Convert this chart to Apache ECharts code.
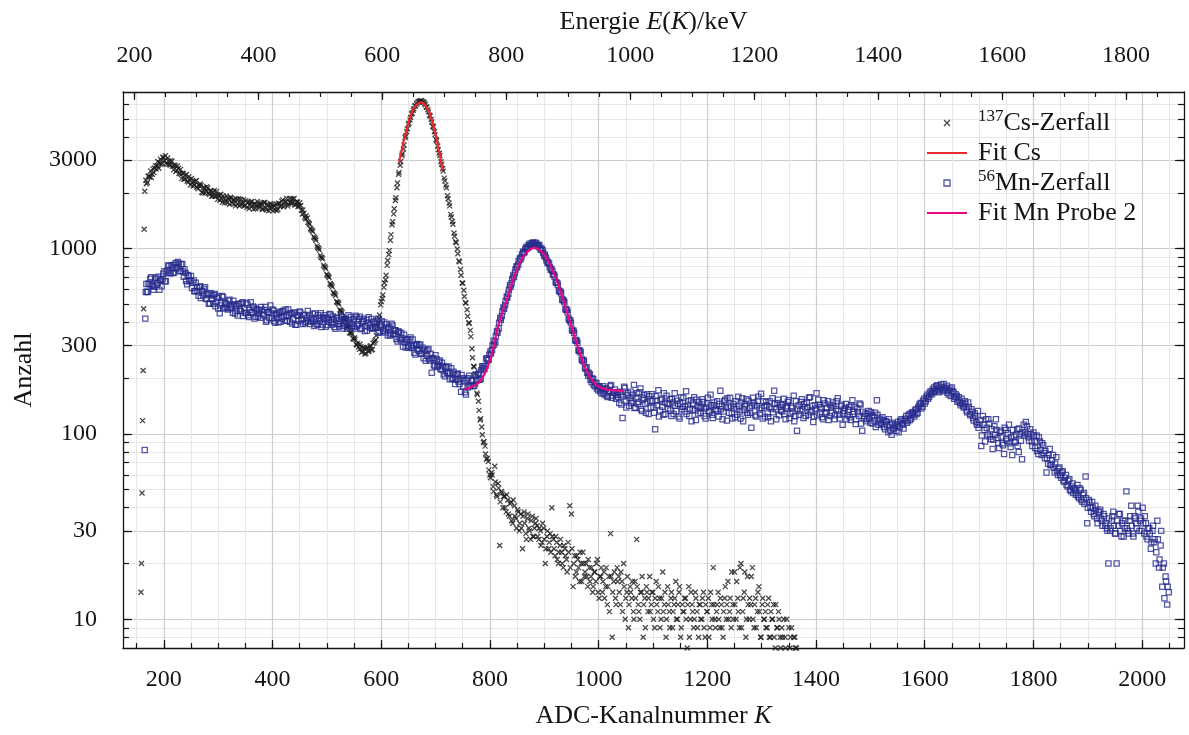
<!DOCTYPE html>
<html>
<head>
<meta charset="utf-8">
<script src="https://cdn.jsdelivr.net/npm/echarts@6/dist/echarts.min.js"></script>
<style>
  html, body { margin: 0; padding: 0; background: #ffffff; }
  #chart { width: 1189px; height: 735px; }
</style>
</head>
<body>
<div id="chart"></div>
<script>
// ---------------------------------------------------------------
// Gamma spectra: counts per ADC channel (channel grid start/step)
// ---------------------------------------------------------------

// 137Cs spectrum, threshold edge (individual channels)
const csEdgeChannels = [158, 159, 160, 161, 162, 163, 164, 165];
const csEdgeCounts   = [14, 20, 48, 118, 220, 474, 1271, 2040];

// 137Cs spectrum, channels 167, 170, 173, ...
const csStartA = 167, csStep = 3;
const csCountsA = [
  2336, 2275, 2464, 2625, 2519, 2571, 2802, 2790, 2717, 3037,
  2891, 3101, 3172, 2850, 2969, 2822, 2961, 2659, 2802, 2643,
  2714, 2534, 2385, 2544, 2381, 2515, 2289, 2353, 2392, 2179,
  2205, 2331, 2102, 2182, 2194, 1995, 2122, 2039, 2122, 1959,
  2060, 1921, 2058, 1921, 1843, 1943, 1966, 1781, 1879, 1813,
  1766, 1848, 1893, 1756, 1836, 1701, 1833, 1859, 1727, 1737,
  1838, 1710, 1670, 1787, 1713, 1794, 1634, 1749, 1727, 1654,
  1683, 1763, 1639, 1772, 1619, 1718, 1648, 1730, 1598, 1702,
  1741, 1632, 1749, 1713, 1832, 1707, 1793, 1696, 1862, 1759,
  1764, 1867, 1727, 1785, 1693, 1710, 1536, 1555, 1450, 1463,
  1375, 1285, 1255, 1160, 1130, 1035, 1005, 920, 895, 815,
  795, 728, 712, 648, 635, 580, 570, 518, 510, 468,
  460, 422, 418, 385, 382, 352, 355, 328, 330, 305,
  308, 286, 296, 278, 290, 272, 292, 280, 299, 286,
  312, 322, 378, 418, 497, 538, 618, 680, 812, 930,
  1110, 1345, 1540, 1820, 2130, 2520, 2820, 3180, 3450, 3980,
  4280, 4680, 4950, 5330, 5570, 5880, 6020, 6210, 6230, 6290,
  6180, 6090, 5820, 5610, 5250, 4980, 4570, 4270, 3880, 3580,
  3270, 2940, 2700, 2400, 2200, 1930, 1760, 1530, 1400, 1215,
  1090, 995, 858, 772, 652, 596, 510, 468, 398, 362,
  288, 232, 211, 166, 150, 119, 109, 90, 86, 73,
  71, 60, 62, 52, 67, 47, 54, 25, 49, 40,
  46, 38, 44, 36, 43, 33, 41, 35, 39, 30,
  37, 24, 38, 29, 35, 31, 27, 36, 28, 33,
  32, 27, 30, 26, 31, 20, 28, 24, 29, 40,
  27, 22, 26, 20, 25, 23, 19, 24, 21, 26,
  41, 37, 15, 22, 18, 21, 16, 20, 23, 17,
  20, 15, 19, 17, 14, 18, 16, 21, 13, 17,
  14, 18, 15, 12, 17, 29, 8, 16, 13, 19,
  17, 12, 16, 20, 10, 14, 9, 15, 13, 11,
  16, 27, 12, 10, 14, 8, 13, 15, 11, 17,
  12, 14, 9, 16, 11, 13, 10, 18, 12, 8,
  15, 11, 13, 9, 12, 16, 10, 14, 8, 12,
  11, 13, 7, 15, 10, 12, 9, 14, 11, 8,
  12, 10, 14, 8, 11, 13, 9, 12, 19, 10,
  11, 14, 9, 12, 8, 13, 10, 16, 11, 9,
  12, 18, 10, 13, 9, 20, 11, 14, 8, 17,
  10, 12, 19, 9, 13, 11, 15, 8, 12, 10,
  11, 9, 13, 8, 10, 12, 7, 9, 11, 8,
  9, 6, 8, 10, 5, 7, 9, 6, 8, 7
];

// 137Cs spectrum, channels 168, 171, 174, ...
const csStartB = 168;
const csCountsB = [
  2241, 2462, 2435, 2419, 2694, 2723, 2685, 2951, 2909, 2852,
  3110, 2979, 2893, 3080, 2842, 2985, 2782, 2815, 2602, 2793,
  2548, 2678, 2550, 2362, 2493, 2313, 2444, 2204, 2267, 2307,
  2307, 2144, 2202, 2236, 2014, 2137, 1992, 2158, 1994, 2035,
  1915, 2015, 1916, 2032, 1934, 1824, 1866, 1926, 1765, 1922,
  1875, 1737, 1873, 1826, 1744, 1860, 1742, 1697, 1848, 1771,
  1698, 1815, 1775, 1648, 1782, 1691, 1737, 1646, 1796, 1739,
  1734, 1627, 1775, 1654, 1737, 1600, 1749, 1663, 1716, 1618,
  1607, 1756, 1686, 1804, 1680, 1783, 1867, 1733, 1774, 1851,
  1854, 1718, 1788, 1688, 1768, 1612, 1617, 1474, 1504, 1386,
  1355, 1265, 1235, 1145, 1110, 1015, 985, 900, 880, 800,
  780, 715, 698, 640, 622, 572, 558, 512, 502, 462,
  452, 418, 410, 380, 376, 350, 348, 325, 324, 302,
  294, 305, 276, 293, 270, 291, 278, 297, 284, 308,
  318, 340, 396, 438, 518, 562, 652, 718, 862, 975,
  1190, 1395, 1640, 1880, 2260, 2580, 2950, 3250, 3620, 4050,
  4420, 4750, 5100, 5390, 5690, 5900, 6110, 6200, 6280, 6220,
  6170, 5980, 5790, 5470, 5200, 4820, 4530, 4120, 3820, 3420,
  3180, 2850, 2620, 2320, 2130, 1860, 1700, 1480, 1355, 1165,
  1075, 938, 848, 718, 650, 552, 508, 432, 396, 335,
  258, 230, 186, 163, 134, 121, 99, 91, 78, 74,
  64, 58, 60, 49, 55, 46, 51, 43, 48, 46,
  40, 47, 37, 42, 34, 44, 36, 31, 38, 33,
  31, 36, 33, 27, 37, 30, 34, 28, 31, 35,
  28, 31, 25, 33, 27, 24, 30, 26, 23, 28,
  24, 28, 21, 23, 27, 20, 25, 22, 18, 23,
  19, 24, 20, 17, 22, 19, 23, 16, 20, 18,
  17, 21, 16, 19, 15, 18, 20, 14, 17, 19,
  16, 13, 19, 15, 11, 17, 14, 18, 12, 16,
  14, 18, 11, 15, 13, 17, 12, 14, 16, 10,
  13, 15, 11, 14, 17, 12, 9, 14, 13, 11,
  14, 10, 13, 12, 15, 9, 13, 11, 14, 10,
  12, 9, 14, 11, 13, 10, 12, 15, 9, 11,
  13, 10, 12, 8, 14, 11, 10, 13, 9, 12,
  10, 13, 9, 12, 11, 8, 14, 10, 12, 9,
  12, 10, 13, 9, 11, 15, 12, 10, 13, 18,
  10, 12, 16, 11, 19, 9, 13, 18, 10, 12,
  13, 17, 10, 12, 9, 14, 11, 8, 13, 10,
  9, 12, 8, 11, 10, 8, 12, 9, 10, 7,
  8, 10, 7, 6, 9, 8, 5, 8, 7, 6
];

// Gaussian fit of the 662 keV photopeak
const csFitChannels = [633, 640, 647, 653, 660, 667, 673, 680, 687, 693, 700, 707, 713];
const csFitCounts   = [2920, 3650, 4400, 5100, 5700, 6050, 6150, 6000, 5550, 4950, 4150, 3300, 2650];

// 56Mn spectrum, threshold edge (individual channels)
const mnEdgeChannels = [165, 166, 167];
const mnEdgeCounts   = [82, 419, 583];

// 56Mn spectrum, channels 168, 171, 174, ...
const mnStartA = 168, mnStep = 3;
const mnCountsA = [
  645, 584, 642, 702, 630, 622, 697, 653, 600, 680,
  686, 755, 667, 762, 808, 739, 790, 744, 838, 792,
  830, 757, 826, 705, 740, 642, 712, 672, 613, 674,
  590, 619, 557, 626, 589, 558, 619, 534, 573, 506,
  558, 505, 569, 516, 475, 448, 507, 548, 482, 502,
  469, 530, 483, 451, 501, 490, 435, 505, 460, 514,
  475, 449, 499, 427, 513, 451, 481, 429, 468, 447,
  423, 466, 437, 484, 411, 454, 493, 421, 464, 398,
  445, 400, 456, 420, 462, 409, 434, 469, 403, 446,
  415, 453, 388, 434, 458, 419, 392, 438, 403, 461,
  439, 409, 445, 382, 418, 388, 424, 448, 390, 417,
  379, 424, 403, 440, 390, 414, 369, 425, 408, 392,
  427, 383, 410, 370, 437, 397, 384, 416, 371, 427,
  390, 429, 372, 407, 359, 413, 396, 375, 417, 370,
  404, 374, 419, 355, 388, 359, 399, 370, 341, 379,
  348, 385, 347, 362, 315, 356, 320, 327, 343, 293,
  324, 292, 332, 291, 302, 268, 306, 281, 303, 271,
  256, 285, 264, 287, 249, 214, 256, 232, 253, 234,
  249, 222, 232, 205, 230, 213, 197, 226, 200, 209,
  196, 212, 186, 169, 200, 193, 163, 178, 206, 183,
  196, 182, 208, 196, 214, 198, 232, 232, 233, 256,
  251, 279, 284, 318, 313, 358, 371, 422, 433, 481,
  497, 552, 571, 634, 651, 716, 738, 803, 822, 884,
  897, 962, 958, 1021, 1012, 1063, 1041, 1078, 1049, 1072,
  1031, 1044, 986, 979, 912, 896, 837, 828, 768, 757,
  722, 661, 653, 594, 586, 532, 524, 472, 466, 419,
  409, 366, 361, 322, 318, 284, 281, 252, 251, 228,
  229, 206, 210, 190, 198, 181, 188, 172, 180, 166,
  181, 163, 175, 158, 170, 184, 161, 167, 155, 168,
  147, 163, 122, 180, 151, 162, 142, 169, 150, 184,
  139, 166, 149, 176, 133, 157, 145, 164, 128, 151,
  164, 139, 106, 151, 172, 134, 155, 127, 148, 161,
  137, 154, 125, 148, 166, 133, 145, 121, 158, 140,
  132, 170, 144, 125, 152, 135, 158, 119, 141, 149,
  130, 154, 137, 121, 146, 133, 163, 127, 143, 136,
  150, 124, 171, 141, 132, 153, 118, 139, 157, 129,
  145, 123, 136, 159, 132, 148, 117, 141, 154, 127,
  138, 108, 157, 144, 124, 151, 135, 165, 121, 141,
  149, 129, 140, 117, 156, 171, 136, 147, 126, 144,
  132, 155, 120, 141, 152, 128, 138, 161, 125, 104,
  143, 133, 154, 122, 140, 148, 127, 158, 134, 116,
  143, 166, 153, 129, 137, 120, 146, 131, 150, 125,
  139, 148, 120, 136, 156, 127, 141, 112, 133, 145,
  126, 140, 119, 152, 132, 113, 137, 125, 144, 104,
  121, 129, 120, 133, 115, 126, 118, 130, 152, 112,
  121, 113, 119, 106, 116, 102, 112, 99, 108, 111,
  104, 116, 109, 120, 112, 118, 125, 117, 128, 121,
  131, 124, 136, 130, 142, 147, 140, 155, 150, 163,
  158, 170, 166, 178, 171, 183, 168, 180, 174, 186,
  172, 182, 163, 176, 178, 168, 158, 161, 152, 147,
  155, 141, 150, 134, 148, 128, 136, 122, 129, 116,
  133, 112, 86, 125, 105, 120, 99, 114, 94, 83,
  110, 120, 95, 84, 104, 89, 78, 105, 92, 112,
  85, 77, 97, 90, 106, 80, 100, 73, 112, 102,
  110, 96, 106, 91, 102, 84, 98, 78, 91, 77,
  87, 74, 62, 69, 83, 68, 77, 62, 75, 60,
  66, 58, 63, 55, 60, 52, 57, 49, 54, 51,
  47, 53, 45, 50, 43, 48, 59, 33, 44, 40,
  43, 37, 41, 35, 38, 39, 34, 37, 32, 31,
  20, 30, 34, 38, 29, 20, 32, 37, 28, 34,
  31, 49, 30, 34, 41, 29, 36, 33, 41, 30,
  35, 40, 29, 33, 27, 31, 24, 30, 26, 20,
  34, 19, 25, 15, 20, 17, 12, 14
];

// 56Mn spectrum, channels 169, 172, 175, ...
const mnStartB = 169;
const mnCountsB = [
  585, 649, 689, 633, 600, 689, 639, 706, 673, 627,
  732, 666, 744, 812, 737, 813, 738, 818, 782, 847,
  756, 824, 754, 775, 668, 721, 666, 713, 654, 589,
  655, 586, 620, 541, 592, 606, 538, 566, 504, 575,
  535, 562, 488, 541, 551, 494, 556, 475, 510, 480,
  523, 475, 497, 523, 447, 460, 501, 470, 506, 433,
  450, 509, 437, 468, 452, 487, 420, 473, 430, 465,
  485, 443, 467, 403, 454, 422, 448, 469, 406, 440,
  422, 451, 403, 458, 427, 469, 408, 438, 450, 394,
  448, 388, 438, 407, 453, 414, 438, 395, 423, 405,
  392, 424, 403, 447, 392, 437, 407, 377, 425, 437,
  420, 387, 444, 398, 430, 377, 421, 392, 380, 435,
  371, 406, 418, 377, 413, 428, 392, 379, 435, 382,
  417, 368, 403, 418, 381, 361, 426, 386, 373, 400,
  375, 408, 352, 389, 406, 362, 353, 391, 373, 340,
  393, 344, 363, 325, 357, 327, 351, 296, 313, 322,
  298, 322, 297, 323, 274, 300, 287, 303, 271, 292,
  279, 248, 282, 254, 271, 257, 235, 266, 230, 245,
  225, 242, 210, 229, 214, 231, 213, 198, 217, 186,
  210, 192, 198, 208, 180, 168, 196, 200, 181, 193,
  181, 207, 193, 210, 196, 221, 227, 224, 255, 251,
  268, 272, 300, 304, 338, 352, 398, 413, 459, 474,
  522, 543, 601, 622, 684, 703, 772, 794, 856, 874,
  931, 947, 996, 1003, 1044, 1036, 1069, 1052, 1075, 1046,
  1049, 1009, 1001, 946, 928, 865, 848, 794, 779, 725,
  707, 655, 637, 588, 574, 528, 513, 468, 452, 412,
  398, 360, 351, 318, 310, 280, 275, 249, 246, 225,
  214, 213, 196, 199, 184, 189, 176, 181, 170, 175,
  166, 176, 160, 171, 181, 157, 168, 174, 162, 158,
  169, 144, 159, 177, 139, 166, 156, 147, 163, 138,
  156, 145, 168, 136, 153, 162, 130, 148, 160, 139,
  151, 130, 160, 143, 124, 152, 140, 166, 128, 146,
  145, 134, 155, 128, 142, 151, 124, 146, 136, 157,
  141, 128, 150, 137, 117, 146, 134, 153, 129, 138,
  140, 149, 125, 139, 157, 131, 143, 122, 148, 134,
  133, 145, 136, 120, 150, 139, 156, 130, 142, 121,
  139, 150, 127, 142, 121, 156, 135, 145, 130, 151,
  130, 142, 148, 126, 141, 159, 129, 138, 150, 124,
  143, 123, 150, 137, 131, 146, 120, 153, 140, 134,
  144, 128, 138, 149, 122, 141, 132, 117, 150, 137,
  127, 149, 136, 145, 125, 139, 157, 131, 142, 124,
  137, 126, 144, 140, 123, 152, 129, 138, 119, 144,
  130, 142, 126, 150, 133, 121, 144, 129, 138, 120,
  135, 123, 143, 128, 140, 120, 131, 146, 114, 132,
  125, 117, 128, 122, 131, 114, 124, 109, 127, 118,
  115, 123, 109, 117, 111, 120, 104, 115, 107, 113,
  110, 102, 118, 114, 107, 121, 115, 126, 119, 130,
  127, 134, 128, 139, 145, 137, 151, 146, 159, 155,
  167, 163, 174, 169, 181, 176, 172, 185, 170, 178,
  177, 167, 172, 160, 170, 155, 164, 149, 158, 143,
  146, 139, 145, 131, 140, 126, 132, 118, 125, 112,
  108, 119, 98, 112, 91, 108, 120, 97, 106, 93,
  99, 105, 89, 102, 97, 87, 108, 94, 101, 89,
  96, 105, 91, 99, 86, 107, 92, 102, 98, 116,
  100, 92, 100, 86, 98, 91, 81, 96, 82, 89,
  79, 81, 74, 77, 68, 72, 66, 69, 63, 65,
  60, 62, 56, 58, 53, 56, 50, 52, 48, 50,
  49, 46, 51, 44, 47, 42, 45, 40, 43, 38,
  40, 36, 39, 33, 38, 35, 32, 36, 33, 30,
  35, 31, 36, 32, 29, 34, 37, 30, 33, 28,
  34, 31, 29, 36, 32, 28, 35, 31, 38, 34,
  30, 33, 36, 28, 31, 29, 26, 32, 27, 23,
  27, 21, 30, 19, 13, 16, 15
];

// Gaussian fit of the 847 keV line (sample 2)
const mnFitChannels = [753, 765, 780, 790, 799, 807, 814, 822, 830, 839, 848, 857, 866, 875, 883,
                       893, 903, 912, 922, 931, 940, 949, 958, 967, 977, 988, 1000, 1015, 1030, 1047];
const mnFitCounts   = [175, 178, 190, 210, 244, 295, 370, 445, 518, 630, 750, 860, 940, 995, 1009,
                       975, 900, 800, 688, 575, 474, 390, 320, 265, 222, 195, 180, 174, 172, 171];

// Axis ticks and labels
const channelTicks  = [150, 200, 250, 300, 350, 400, 450, 500, 550, 600, 650, 700, 750, 800, 850, 900, 950,
                       1000, 1050, 1100, 1150, 1200, 1250, 1300, 1350, 1400, 1450, 1500, 1550, 1600, 1650,
                       1700, 1750, 1800, 1850, 1900, 1950, 2000, 2050];
const channelLabels = [200, 400, 600, 800, 1000, 1200, 1400, 1600, 1800, 2000];
const energyTicks   = [200, 250, 300, 350, 400, 450, 500, 550, 600, 650, 700, 750, 800, 850, 900, 950, 1000,
                       1050, 1100, 1150, 1200, 1250, 1300, 1350, 1400, 1450, 1500, 1550, 1600, 1650, 1700,
                       1750, 1800, 1850];
const energyLabels  = [200, 400, 600, 800, 1000, 1200, 1400, 1600, 1800];
const countTicks    = [8, 9, 10, 20, 30, 40, 50, 60, 70, 80, 90, 100, 200, 300, 400, 500, 600, 700, 800, 900,
                       1000, 2000, 3000, 4000, 5000, 6000];
const countLabels   = [10, 30, 100, 300, 1000, 3000];

// ---------------------------------------------------------------
// Axis ranges and energy calibration  E = E_OFFSET + E_SLOPE * K
// ---------------------------------------------------------------
const K_MIN = 125, K_MAX = 2077;
const N_MIN = 7, N_MAX = 7000;
const E_OFFSET = 71.9, E_SLOPE = 0.877;

const FONT = '"Liberation Serif", "Times New Roman", serif';
const INK = '#141414';
const CS_COLOR = '#1a1a1a';
const MN_COLOR = '#262a8c';
const CS_FIT_COLOR = '#ec2a2e';
const MN_FIT_COLOR = '#e5087f';
const GRID_MINOR = '#e6e6e6';
const GRID_MAJOR = '#cdcdcd';
const CROSS = 'path://M0,0L10,10M10,0L0,10';
const SQUARE = 'path://M0,0H10V10H0Z';
const BAR = 'path://M0,0H40V2H0Z';

const lg = Math.log10;

function gridPoints(start, step, counts) {
  const pts = [];
  counts.forEach((n, i) => { if (n > 0) pts.push([start + i * step, lg(n)]); });
  return pts;
}
function pairPoints(channels, counts) {
  return channels.map((k, i) => [k, lg(counts[i])]);
}

const csPoints = pairPoints(csEdgeChannels, csEdgeCounts)
  .concat(gridPoints(csStartA, csStep, csCountsA), gridPoints(csStartB, csStep, csCountsB));
const mnPoints = pairPoints(mnEdgeChannels, mnEdgeCounts)
  .concat(gridPoints(mnStartA, mnStep, mnCountsA), gridPoints(mnStartB, mnStep, mnCountsB));

const labelStyle = { fontFamily: FONT, fontSize: 24, color: INK };
const nameStyle = {
  fontFamily: FONT, fontSize: 26, color: INK,
  rich: { i: { fontFamily: FONT, fontSize: 26, fontStyle: 'italic', color: INK } }
};
const plainNumber = v => String(v);

const chart = echarts.init(document.getElementById('chart'), null, { renderer: 'canvas' });

chart.setOption({
  animation: false,
  backgroundColor: '#ffffff',
  grid: { left: 123, top: 92, width: 1061, height: 556, containLabel: false },
  legend: {
    orient: 'vertical',
    left: 927,
    top: 108,
    padding: 0,
    itemWidth: 40,
    itemHeight: 6,
    itemGap: 0,
    selectedMode: false,
    formatter: name => name.replace(/^(\d+)/, '{sup|$1}'),
    textStyle: {
      fontFamily: FONT, fontSize: 26, color: INK, lineHeight: 30, padding: [0, 0, 0, 6],
      rich: { sup: { fontFamily: FONT, fontSize: 17, lineHeight: 18, verticalAlign: 'top', color: INK } }
    },
    data: [
      { name: '137Cs-Zerfall', icon: CROSS,
        itemStyle: { color: 'rgba(0,0,0,0)', borderColor: CS_COLOR, borderWidth: 1.3 } },
      { name: 'Fit Cs', icon: BAR,
        itemStyle: { color: CS_FIT_COLOR, borderWidth: 0 } },
      { name: '56Mn-Zerfall', icon: SQUARE,
        itemStyle: { color: 'rgba(0,0,0,0)', borderColor: MN_COLOR, borderWidth: 1.3 } },
      { name: 'Fit Mn Probe 2', icon: BAR,
        itemStyle: { color: MN_FIT_COLOR, borderWidth: 0 } }
    ]
  },
  xAxis: [
    { // channel axis: minor ticks and light grid
      type: 'value', position: 'bottom', min: K_MIN, max: K_MAX,
      axisLine: { show: true, onZero: false, lineStyle: { color: INK, width: 1.3 } },
      axisTick: { show: true, inside: true, length: 5, customValues: channelTicks, lineStyle: { color: INK, width: 1.2 } },
      axisLabel: { show: false },
      splitLine: { show: true, lineStyle: { color: GRID_MINOR, width: 1 } }
    },
    { // channel axis: labelled ticks, darker grid, axis title
      type: 'value', position: 'bottom', min: K_MIN, max: K_MAX,
      axisLine: { show: false, onZero: false },
      axisTick: { show: true, inside: true, length: 8, customValues: channelLabels, lineStyle: { color: INK, width: 1.2 } },
      axisLabel: { show: true, customValues: channelLabels, margin: 20, formatter: plainNumber, ...labelStyle },
      splitLine: { show: true, lineStyle: { color: GRID_MAJOR, width: 1.2 } },
      name: 'ADC-Kanalnummer {i|K}', nameLocation: 'middle', nameGap: 55, nameTextStyle: nameStyle
    },
    { // energy axis on top: minor ticks
      type: 'value', position: 'top',
      min: E_OFFSET + E_SLOPE * K_MIN, max: E_OFFSET + E_SLOPE * K_MAX,
      axisLine: { show: true, onZero: false, lineStyle: { color: INK, width: 1.3 } },
      axisTick: { show: true, inside: true, length: 5, customValues: energyTicks, lineStyle: { color: INK, width: 1.2 } },
      axisLabel: { show: false },
      splitLine: { show: false }
    },
    { // energy axis on top: labelled ticks and title
      type: 'value', position: 'top',
      min: E_OFFSET + E_SLOPE * K_MIN, max: E_OFFSET + E_SLOPE * K_MAX,
      axisLine: { show: false, onZero: false },
      axisTick: { show: true, inside: true, length: 8, customValues: energyLabels, lineStyle: { color: INK, width: 1.2 } },
      axisLabel: { show: true, customValues: energyLabels, margin: 24, formatter: plainNumber, ...labelStyle },
      splitLine: { show: false },
      name: 'Energie {i|E}({i|K})/keV', nameLocation: 'middle', nameGap: 57, nameTextStyle: nameStyle
    }
  ],
  yAxis: [
    { // counts (log10 scale): minor ticks and light grid
      type: 'value', position: 'left', min: lg(N_MIN), max: lg(N_MAX),
      axisLine: { show: true, onZero: false, lineStyle: { color: INK, width: 1.3 } },
      axisTick: { show: true, inside: true, length: 6, customValues: countTicks.map(lg), lineStyle: { color: INK, width: 1.2 } },
      axisLabel: { show: false },
      splitLine: { show: true, lineStyle: { color: GRID_MINOR, width: 1 } }
    },
    { // counts: labelled ticks, darker grid, title
      type: 'value', position: 'left', min: lg(N_MIN), max: lg(N_MAX),
      axisLine: { show: false, onZero: false },
      axisTick: { show: true, inside: true, length: 9, customValues: countLabels.map(lg), lineStyle: { color: INK, width: 1.2 } },
      axisLabel: {
        show: true, customValues: countLabels.map(lg), margin: 26, ...labelStyle,
        formatter: v => String(Math.round(Math.pow(10, v)))
      },
      splitLine: { show: true, lineStyle: { color: GRID_MAJOR, width: 1.2 } },
      name: 'Anzahl', nameLocation: 'middle', nameGap: 86, nameTextStyle: nameStyle
    },
    { // right frame: minor ticks
      type: 'value', position: 'right', min: lg(N_MIN), max: lg(N_MAX),
      axisLine: { show: true, onZero: false, lineStyle: { color: INK, width: 1.3 } },
      axisTick: { show: true, inside: true, length: 6, customValues: countTicks.map(lg), lineStyle: { color: INK, width: 1.2 } },
      axisLabel: { show: false },
      splitLine: { show: false }
    },
    { // right frame: labelled ticks
      type: 'value', position: 'right', min: lg(N_MIN), max: lg(N_MAX),
      axisLine: { show: false, onZero: false },
      axisTick: { show: true, inside: true, length: 9, customValues: countLabels.map(lg), lineStyle: { color: INK, width: 1.2 } },
      axisLabel: { show: false },
      splitLine: { show: false }
    }
  ],
  series: [
    {
      name: '137Cs-Zerfall', type: 'scatter', xAxisIndex: 0, yAxisIndex: 0,
      data: csPoints, symbol: CROSS, symbolSize: 5,
      itemStyle: { color: 'rgba(0,0,0,0)', borderColor: CS_COLOR, borderWidth: 1.3 },
      emphasis: { disabled: true }, z: 3
    },
    {
      name: 'Fit Cs', type: 'line', xAxisIndex: 0, yAxisIndex: 0,
      data: pairPoints(csFitChannels, csFitCounts), smooth: 0.4, showSymbol: false, symbol: 'none',
      lineStyle: { color: CS_FIT_COLOR, width: 2.2 }, itemStyle: { color: CS_FIT_COLOR },
      emphasis: { disabled: true }, z: 4
    },
    {
      name: '56Mn-Zerfall', type: 'scatter', xAxisIndex: 0, yAxisIndex: 0,
      data: mnPoints, symbol: 'rect', symbolSize: 5.2,
      itemStyle: { color: 'rgba(0,0,0,0)', borderColor: MN_COLOR, borderWidth: 1.25 },
      emphasis: { disabled: true }, z: 5
    },
    {
      name: 'Fit Mn Probe 2', type: 'line', xAxisIndex: 0, yAxisIndex: 0,
      data: pairPoints(mnFitChannels, mnFitCounts), smooth: 0.4, showSymbol: false, symbol: 'none',
      lineStyle: { color: MN_FIT_COLOR, width: 2.2 }, itemStyle: { color: MN_FIT_COLOR },
      emphasis: { disabled: true }, z: 6
    }
  ]
});
</script>
</body>
</html>
